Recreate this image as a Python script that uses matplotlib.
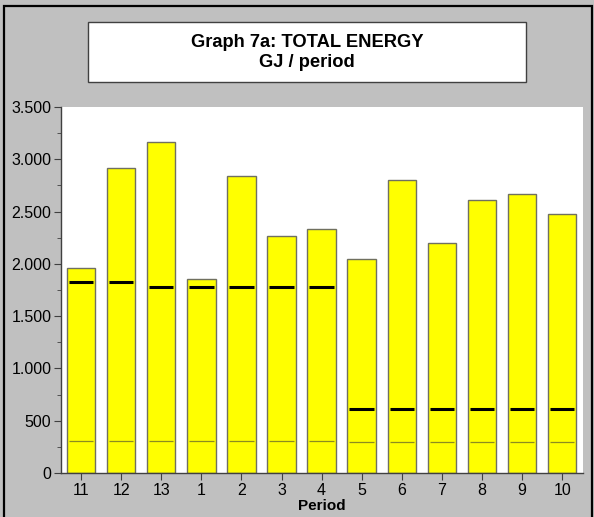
import matplotlib
matplotlib.use("Agg")
import matplotlib.pyplot as plt
import numpy as np
from matplotlib.patches import Rectangle
from matplotlib.ticker import FuncFormatter, MultipleLocator

plt.rcParams["font.family"] = ["Liberation Sans", "DejaVu Sans"]

periods = ["11", "12", "13", "1", "2", "3", "4", "5", "6", "7", "8", "9", "10"]
total_energy = [1960, 2920, 3165, 1855, 2836, 2270, 2336, 2049, 2801, 2202, 2607, 2667, 2476]
target_level = [1823, 1823, 1775, 1775, 1775, 1775, 1775, 609, 609, 609, 609, 609, 609]
base_level = [305, 305, 305, 305, 305, 305, 305, 300, 300, 300, 300, 300, 300]

W, H = 594, 517
fig = plt.figure(figsize=(W / 100, H / 100), dpi=100)
fig.patch.set_facecolor("#C0C0C0")


def fx(px):
    return px / W


def fy(py):
    return 1 - py / H


# outer frame
fig.patches.append(Rectangle((fx(4), fy(520)), fx(588), 514 / H, transform=fig.transFigure,
                             fill=False, edgecolor="black", linewidth=1.6))

# title box
fig.patches.append(Rectangle((fx(88), fy(82)), fx(438), 60 / H, transform=fig.transFigure,
                             facecolor="white", edgecolor="#404040", linewidth=1.0))
fig.text(fx(307), fy(52.5), "Graph 7a: TOTAL ENERGY\nGJ / period", ha="center", va="center",
         fontsize=13.2, fontweight="bold", linespacing=1.2)

ax = fig.add_axes([fx(61), fy(473), fx(583 - 61), (473 - 107) / H])
ax.set_facecolor("white")

x = np.arange(len(periods))
bw = 0.71
ax.bar(x, total_energy, width=bw, color="#FFFF00", edgecolor="#707060", linewidth=1.0, zorder=2)
ax.hlines(target_level, x - bw / 2 + 0.05, x + bw / 2 - 0.05, color="black", linewidth=2.2, zorder=3)
ax.hlines(base_level, x - bw / 2 + 0.05, x + bw / 2 - 0.05, color="#8C8C20", linewidth=0.9, zorder=3)

ax.set_xlim(-0.5, 12.52)
ax.set_ylim(0, 3500)
ax.set_xticks(x)
ax.set_xticklabels(periods)
ax.yaxis.set_major_locator(MultipleLocator(500))
ax.yaxis.set_minor_locator(MultipleLocator(250))
ax.yaxis.set_major_formatter(FuncFormatter(lambda v, p: f"{int(v):,}".replace(",", ".")))

ax.tick_params(axis="both", labelsize=11.5, colors="#404040", labelcolor="black")
ax.tick_params(axis="y", which="major", length=5, pad=2)
ax.tick_params(axis="y", which="minor", length=3, colors="#404040")
ax.tick_params(axis="x", length=5, pad=2)

for side in ["top", "right"]:
    ax.spines[side].set_visible(False)
for side in ["left", "bottom"]:
    ax.spines[side].set_color("#404040")
    ax.spines[side].set_linewidth(1.0)

ax.set_xlabel("Period", fontsize=11, fontweight="bold", labelpad=0)
ax.xaxis.set_label_coords(0.5, -(499 - 473) / (473 - 107))

fig.savefig("out.png", dpi=100, facecolor=fig.get_facecolor())
